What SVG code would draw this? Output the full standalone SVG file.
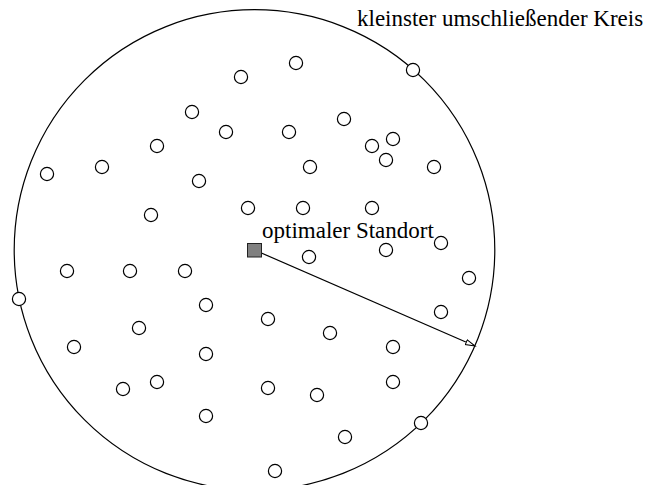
<svg xmlns="http://www.w3.org/2000/svg" width="652" height="485" viewBox="0 0 652 485">
<style>
.pt{fill:#fff;stroke:#000;stroke-width:1.2}
.lbl{font-family:"Liberation Serif","Times New Roman",serif;font-size:23px;fill:#000}
.edge{stroke:#000;stroke-width:1.2;fill:none}
</style>
<defs>
<marker id="arr" markerWidth="12" markerHeight="8" refX="10" refY="3.5" orient="auto" markerUnits="userSpaceOnUse">
<path d="M0.5,1 L10,3.5 L0.5,6 z" fill="#fff" stroke="#000" stroke-width="1"/>
</marker>
</defs>
<rect width="652" height="485" fill="#fff"/>
<g id="enclosing-circle">
<circle cx="254.5" cy="250" r="240.3" fill="none" stroke="#000" stroke-width="1.2"/>
</g>
<g id="connectors">
<line class="edge" x1="254.5" y1="250" x2="475" y2="346" marker-end="url(#arr)"/>
</g>
<g id="points">
<circle class="pt" cx="413" cy="70" r="6.6"/>
<circle class="pt" cx="296" cy="63" r="6.6"/>
<circle class="pt" cx="241" cy="77" r="6.6"/>
<circle class="pt" cx="192" cy="112" r="6.6"/>
<circle class="pt" cx="226" cy="132" r="6.6"/>
<circle class="pt" cx="289" cy="132" r="6.6"/>
<circle class="pt" cx="344" cy="119" r="6.6"/>
<circle class="pt" cx="157" cy="146" r="6.6"/>
<circle class="pt" cx="102" cy="167" r="6.6"/>
<circle class="pt" cx="47" cy="174" r="6.6"/>
<circle class="pt" cx="199" cy="181" r="6.6"/>
<circle class="pt" cx="310" cy="167" r="6.6"/>
<circle class="pt" cx="372" cy="146" r="6.6"/>
<circle class="pt" cx="393" cy="139" r="6.6"/>
<circle class="pt" cx="386" cy="160" r="6.6"/>
<circle class="pt" cx="434" cy="167" r="6.6"/>
<circle class="pt" cx="151" cy="215" r="6.6"/>
<circle class="pt" cx="248" cy="208" r="6.6"/>
<circle class="pt" cx="303" cy="208" r="6.6"/>
<circle class="pt" cx="372" cy="208" r="6.6"/>
<circle class="pt" cx="441" cy="243" r="6.6"/>
<circle class="pt" cx="386" cy="250" r="6.6"/>
<circle class="pt" cx="309" cy="257" r="6.6"/>
<circle class="pt" cx="67" cy="271" r="6.6"/>
<circle class="pt" cx="130" cy="271" r="6.6"/>
<circle class="pt" cx="185" cy="271" r="6.6"/>
<circle class="pt" cx="469" cy="278" r="6.6"/>
<circle class="pt" cx="19" cy="299" r="6.6"/>
<circle class="pt" cx="206" cy="305" r="6.6"/>
<circle class="pt" cx="268" cy="319" r="6.6"/>
<circle class="pt" cx="441" cy="312" r="6.6"/>
<circle class="pt" cx="139" cy="328" r="6.6"/>
<circle class="pt" cx="330" cy="333" r="6.6"/>
<circle class="pt" cx="74" cy="347" r="6.6"/>
<circle class="pt" cx="206" cy="354" r="6.6"/>
<circle class="pt" cx="393" cy="347" r="6.6"/>
<circle class="pt" cx="157" cy="382" r="6.6"/>
<circle class="pt" cx="123" cy="389" r="6.6"/>
<circle class="pt" cx="268" cy="388" r="6.6"/>
<circle class="pt" cx="317" cy="395" r="6.6"/>
<circle class="pt" cx="393" cy="382" r="6.6"/>
<circle class="pt" cx="206" cy="416" r="6.6"/>
<circle class="pt" cx="345" cy="437" r="6.6"/>
<circle class="pt" cx="421" cy="423" r="6.6"/>
<circle class="pt" cx="275" cy="471" r="6.6"/>
</g>
<g id="optimal-location">
<rect x="247.5" y="243.5" width="14" height="13.5" fill="#808080" stroke="#222" stroke-width="1"/>
<text class="lbl" x="262" y="238">optimaler Standort</text>
</g>
<g id="circle-label">
<text class="lbl" x="357" y="26">kleinster umschließender Kreis</text>
</g>
</svg>
